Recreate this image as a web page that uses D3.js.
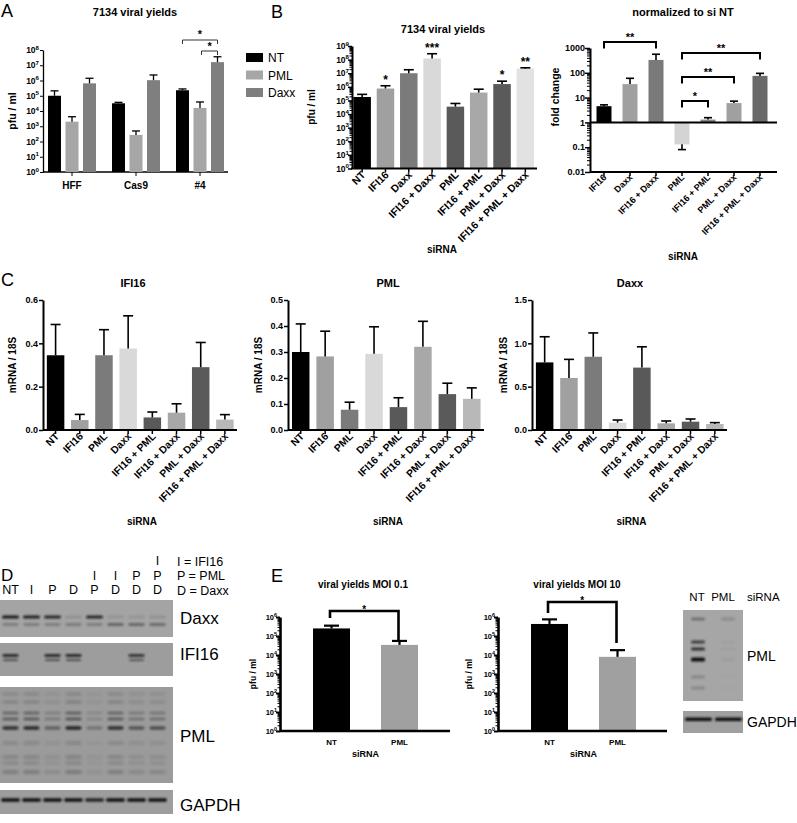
<!DOCTYPE html>
<html><head><meta charset="utf-8">
<script src="https://cdn.jsdelivr.net/npm/d3@7"></script>
<style>
body{margin:0;background:#fff}
svg{display:block}
text{font-family:"Liberation Sans",Arial,Helvetica,sans-serif}
</style>
</head><body>
<svg id="fig" width="797" height="823"></svg>
<script>
// ================= DATA =================
// Panel A
const groupsA = ["HFF", "Cas9", "#4"];
const seriesA = ["NT", "PML", "Daxx"];
const colorsA = ["#000000", "#a6a6a6", "#7f7f7f"];
const meanA_NT = [1.0e5, 3.2e4, 2.3e5];
const errA_NT = [2.1e5, 3.7e4, 2.8e5];
const meanA_PML = [2.0e3, 2.7e2, 1.6e4];
const errA_PML = [4.2e3, 4.9e2, 3.9e4];
const meanA_Daxx = [6.5e5, 1.05e6, 1.6e7];
const errA_Daxx = [1.4e6, 2.3e6, 3.6e7];
const expA = [0, 1, 2, 3, 4, 5, 6, 7, 8];

// Panel B (left) viral yields
const siRNA_B = ["NT", "IFI16", "Daxx", "IFI16 + Daxx", "PML", "IFI16 + PML", "PML + Daxx", "IFI16 + PML + Daxx"];
const colorsB = ["#000000", "#a0a0a0", "#7b7b7b", "#d9d9d9", "#5a5a5a", "#a8a8a8", "#5a5a5a", "#e2e2e2"];
const meanB = [1.8e5, 7.5e5, 1.0e7, 1.2e8, 3.5e4, 3.8e5, 1.6e6, 2.2e7];
const errB = [2.8e5, 1.2e6, 1.8e7, 2.7e8, 6.0e4, 6.7e5, 2.6e6, 2.5e7];
const starsB = ["", "*", "", "***", "", "", "*", "**"];
const expB = [0, 1, 2, 3, 4, 5, 6, 7, 8, 9];

// Panel B (right) fold change
const siRNA_F = ["IFI16", "Daxx", "IFI16 + Daxx", "PML", "IFI16 + PML", "PML + Daxx", "IFI16 + PML + Daxx"];
const colorsF = ["#000000", "#a0a0a0", "#7a7a7a", "#d4d4d4", "#858585", "#a0a0a0", "#6a6a6a"];
const foldMean = [4.5, 35, 330, 0.13, 1.3, 6.0, 75];
const foldErr = [5.1, 60, 560, 0.08, 1.55, 7.2, 95];
const foldTicks = [0.01, 0.1, 1, 10, 100, 1000];
const foldTickLabels = ["0.01", "0.1", "1", "10", "100", "1000"];
const foldBrackets = [["IFI16", "IFI16 + Daxx", "**"], ["PML", "IFI16 + PML + Daxx", "**"], ["PML", "PML + Daxx", "**"], ["PML", "IFI16 + PML", "*"]];

// Panel C mRNA
const siRNA_C = ["NT", "IFI16", "PML", "Daxx", "IFI16 + PML", "IFI16 + Daxx", "PML + Daxx", "IFI16 + PML + Daxx"];
const colorsC = ["#000000", "#a0a0a0", "#7b7b7b", "#d9d9d9", "#595959", "#a8a8a8", "#5a5a5a", "#b8b8b8"];
const ifi16Mean = [0.345, 0.046, 0.345, 0.376, 0.058, 0.080, 0.290, 0.048];
const ifi16Err = [0.487, 0.072, 0.463, 0.527, 0.083, 0.121, 0.404, 0.071];
const ifi16Ticks = [0, 0.2, 0.4, 0.6];
const pmlMean = [0.300, 0.283, 0.078, 0.293, 0.088, 0.320, 0.138, 0.120];
const pmlErr = [0.408, 0.380, 0.107, 0.397, 0.124, 0.418, 0.180, 0.162];
const pmlTicks = [0, 0.1, 0.2, 0.3, 0.4, 0.5];
const daxxMean = [0.78, 0.60, 0.845, 0.085, 0.72, 0.077, 0.096, 0.069];
const daxxErr = [1.076, 0.815, 1.12, 0.115, 0.96, 0.104, 0.127, 0.085];
const daxxTicks = [0, 0.5, 1.0, 1.5];

// Panel D western blots
const lanesD = ["NT", "I", "P", "D", "IP", "ID", "PD", "IPD"];
const laneLabelsD = [["NT"], ["I"], ["P"], ["D"], ["I", "P"], ["I", "D"], ["P", "D"], ["I", "P", "D"]];
const keyD = ["I = IFI16", "P = PML", "D = Daxx"];
const daxxUpper = [0.95, 0.9, 0.85, 0.12, 0.85, 0.10, 0.10, 0.12];
const daxxLower = [0.30, 0.30, 0.30, 0.32, 0.30, 0.50, 0.48, 0.45];
const ifi16Upper = [0.95, 0, 0.95, 0.95, 0, 0, 0.85, 0];
const ifi16Lower = [0.55, 0, 0.55, 0.55, 0, 0, 0.50, 0];
const pmlLane = [0.85, 0.9, 0.45, 0.95, 0.3, 0.85, 0.55, 0.6];
const pmlRowStrength = [0.2, 0.25, 0.45, 0.55, 0.9, 0.22, 0.25, 0.2, 0.35];
const gapdhLane = [1, 1, 1, 1, 0.85, 1, 1, 1];

// Panel E
const siRNA_E = ["NT", "PML"];
const colorsE = ["#000000", "#a0a0a0"];
const moi01Mean = [2.5e5, 3.4e4];
const moi01Err = [3.5e5, 5.5e4];
const moi10Mean = [4.3e5, 8.0e3];
const moi10Err = [7.5e5, 1.8e4];
const expE = [0, 1, 2, 3, 4, 5, 6];
const pmlBlotE = [1, 0.05];
const pmlRowStrengthE = [0.2, 0.7, 0.8, 1.0, 0.2, 0.2];
const gapdhBlotE = [1, 1];

// ================= DRAWING =================
const svg = d3.select("#fig");
svg.append("rect").attr("width", 797).attr("height", 823).attr("fill", "#fff");
const defs = svg.append("defs");
defs.append("filter").attr("id", "blur").attr("x", "-50%").attr("y", "-100%").attr("width", "200%").attr("height", "300%")
  .append("feGaussianBlur").attr("stdDeviation", 0.9);
defs.append("filter").attr("id", "blur2").attr("x", "-50%").attr("y", "-100%").attr("width", "200%").attr("height", "300%")
  .append("feGaussianBlur").attr("stdDeviation", 1.5);

function txt(g, x, y, s, o = {}) {
  const t = g.append("text").attr("x", x).attr("y", y).text(s)
    .attr("font-size", o.size || 10).attr("font-weight", o.weight || "bold")
    .attr("text-anchor", o.anchor || "middle").attr("fill", o.fill || "#000");
  if (o.rotate != null) t.attr("transform", `rotate(${o.rotate},${x},${y})`);
  return t;
}
function powLabel(g, x, y, exp, size) {
  const t = g.append("text").attr("x", x).attr("y", y).attr("text-anchor", "end")
    .attr("font-size", size).attr("font-weight", "bold");
  t.append("tspan").text("10");
  t.append("tspan").attr("dy", -size * 0.42).attr("font-size", size * 0.72).text(exp);
}
function line(g, x1, y1, x2, y2, sw, col) {
  return g.append("line").attr("x1", x1).attr("y1", y1).attr("x2", x2).attr("y2", y2)
    .attr("stroke", col || "#000").attr("stroke-width", sw);
}
function styleAxis(ax, sw) {
  ax.select(".domain").attr("stroke", "#000").attr("stroke-width", sw);
  ax.selectAll(".tick line").attr("stroke", "#000").attr("stroke-width", Math.max(1, sw * 0.75));
}
function minorValues(minE, maxE) {
  const out = [];
  for (let e = minE; e < maxE; e++) for (let k = 2; k <= 9; k++) out.push(k * Math.pow(10, e));
  return out;
}
function logYAxis(g, y, x0, exps, o) {
  const major = exps.map(e => Math.pow(10, e));
  const ax = g.append("g").attr("transform", `translate(${x0},0)`)
    .call(d3.axisLeft(y).tickValues(major).tickSize(o.tick).tickSizeOuter(0).tickFormat(""));
  styleAxis(ax, o.sw);
  if (o.minor) {
    const mx = g.append("g").attr("transform", `translate(${x0},0)`)
      .call(d3.axisLeft(y).tickValues(minorValues(exps[0], exps[exps.length - 1])).tickSize(o.minor).tickFormat(""));
    mx.select(".domain").remove();
    mx.selectAll(".tick line").attr("stroke", "#000").attr("stroke-width", 1);
  }
  exps.forEach(e => powLabel(g, x0 - o.gap, y(Math.pow(10, e)) + o.size * 0.38, e, o.size));
}
function xAxisLine(g, x, y0, xStart, xEnd, sw, tick) {
  line(g, xStart, y0, xEnd, y0, sw);
  x.domain().forEach(c => {
    const cx = x(c) + x.bandwidth() / 2;
    line(g, cx, y0, cx, y0 + tick, Math.max(1, sw * 0.75));
  });
}
function drawBars(g, x, y, cats, means, errs, colors, bw, base, capW, sw) {
  const data = cats.map((c, i) => ({ c, m: means[i], e: errs[i], col: colors[i] }));
  const cxOf = d => x(d.c) + x.bandwidth() / 2;
  g.selectAll(null).data(data).join("rect")
    .attr("x", d => cxOf(d) - bw / 2).attr("width", bw)
    .attr("y", d => Math.min(y(base), y(d.m)))
    .attr("height", d => Math.abs(y(base) - y(d.m)))
    .attr("fill", d => d.col);
  g.selectAll(null).data(data).join("line")
    .attr("x1", cxOf).attr("x2", cxOf).attr("y1", d => y(d.m)).attr("y2", d => y(d.e))
    .attr("stroke", "#000").attr("stroke-width", sw);
  g.selectAll(null).data(data).join("line")
    .attr("x1", d => cxOf(d) - capW / 2).attr("x2", d => cxOf(d) + capW / 2)
    .attr("y1", d => y(d.e)).attr("y2", d => y(d.e))
    .attr("stroke", "#000").attr("stroke-width", sw);
}
function rotLabels(g, x, y0, size, dx, dy) {
  x.domain().forEach(c => {
    const cx = x(c) + x.bandwidth() / 2;
    g.append("text").attr("transform", `translate(${cx + dx},${y0 + dy}) rotate(-45)`)
      .attr("text-anchor", "end").attr("font-size", size).attr("font-weight", "bold").text(c);
  });
}

// ---------- Panel letters ----------
txt(svg, 1, 17, "A", { size: 18, weight: "normal", anchor: "start" });
txt(svg, 271, 18, "B", { size: 18, weight: "normal", anchor: "start" });
txt(svg, 1, 286, "C", { size: 18, weight: "normal", anchor: "start" });
txt(svg, 1, 581, "D", { size: 17, weight: "normal", anchor: "start" });
txt(svg, 271, 582, "E", { size: 18, weight: "normal", anchor: "start" });

// ---------- Panel A ----------
{
  const g = svg.append("g");
  const y = d3.scaleLog().domain([1, 1e8]).range([172, 50]);
  const x = d3.scaleBand().domain(groupsA).range([40, 232]);
  const xi = d3.scalePoint().domain(seriesA).range([-17.5, 17.5]);
  txt(g, 135, 16, "7134 viral yields", { size: 11 });
  logYAxis(g, y, 43, expA, { tick: 3, sw: 1.3, gap: 4, size: 8.5 });
  txt(g, 16, 111, "pfu / ml", { size: 10.5, rotate: -90 });
  line(g, 43, 172, 228, 172, 1.3);
  groupsA.forEach(gr => {
    const cx = x(gr) + x.bandwidth() / 2;
    line(g, cx, 172, cx, 176, 1);
    txt(g, cx, 189, gr, { size: 10 });
  });
  const meansA = [meanA_NT, meanA_PML, meanA_Daxx];
  const errsA = [errA_NT, errA_PML, errA_Daxx];
  seriesA.forEach((s, si) => {
    groupsA.forEach((gr, gi) => {
      const cx = x(gr) + x.bandwidth() / 2 + xi(s);
      g.append("rect").attr("x", cx - 6.5).attr("width", 13)
        .attr("y", y(meansA[si][gi])).attr("height", y(1) - y(meansA[si][gi])).attr("fill", colorsA[si]);
      line(g, cx, y(meansA[si][gi]), cx, y(errsA[si][gi]), 1.3);
      line(g, cx - 4, y(errsA[si][gi]), cx + 4, y(errsA[si][gi]), 1.3);
    });
  });
  // brackets
  const c4 = x("#4") + x.bandwidth() / 2;
  const bx = s => c4 + xi(s);
  g.append("path").attr("d", `M${bx("NT")},44V40H${bx("Daxx")}V44`).attr("fill", "none").attr("stroke", "#333").attr("stroke-width", 1);
  g.append("path").attr("d", `M${bx("PML") + 1.5},55V51H${bx("Daxx")}V55`).attr("fill", "none").attr("stroke", "#333").attr("stroke-width", 1);
  txt(g, (bx("NT") + bx("Daxx")) / 2, 38, "*", { size: 11 });
  txt(g, (bx("PML") + bx("Daxx")) / 2 + 1, 50, "*", { size: 11 });
  // legend
  seriesA.forEach((s, i) => {
    g.append("rect").attr("x", 246).attr("y", 53 + i * 17.5).attr("width", 17).attr("height", 9).attr("fill", colorsA[i]);
    txt(g, 268, 62 + i * 17.5, s, { size: 12, weight: "normal", anchor: "start" });
  });
}

// ---------- Panel B left ----------
{
  const g = svg.append("g");
  const y = d3.scaleLog().domain([1, 1e9]).range([168.5, 46]);
  const x = d3.scaleBand().domain(siRNA_B).range([350.5, 537]);
  txt(g, 443, 33, "7134 viral yields", { size: 11 });
  drawBars(g, x, y, siRNA_B, meanB, errB, colorsB, 17.5, 1, 10, 1.6);
  logYAxis(g, y, 352, expB, { tick: 4, sw: 2, minor: 2.5, gap: 3, size: 8.5 });
  xAxisLine(g, x, 168.5, 351, 537, 2, 4);
  rotLabels(g, x, 168.5, 10.5, 4, 7);
  siRNA_B.forEach((c, i) => {
    if (starsB[i]) txt(g, x(c) + x.bandwidth() / 2, y(errB[i]) - 2, starsB[i], { size: 12 });
  });
  txt(g, 315, 107, "pfu / ml", { size: 10, rotate: -90 });
  txt(g, 442, 253, "siRNA", { size: 10 });
}

// ---------- Panel B right ----------
{
  const g = svg.append("g");
  const y = d3.scaleLog().domain([0.01, 1000]).range([172, 48]);
  const x = d3.scaleBand().domain(siRNA_F).range([591, 773]);
  txt(g, 683, 16, "normalized to si NT", { size: 11 });
  drawBars(g, x, y, siRNA_F, foldMean, foldErr, colorsF, 15, 1, 8, 1.6);
  const ax = g.append("g").attr("transform", "translate(590,0)")
    .call(d3.axisLeft(y).tickValues(foldTicks).tickSize(5).tickSizeOuter(0).tickFormat(""));
  styleAxis(ax, 2);
  const mx = g.append("g").attr("transform", "translate(590,0)")
    .call(d3.axisLeft(y).tickValues(minorValues(-2, 3)).tickSize(3).tickFormat(""));
  mx.select(".domain").remove();
  mx.selectAll(".tick line").attr("stroke", "#000");
  foldTicks.forEach((v, i) => txt(g, 585, y(v) + 3.2, foldTickLabels[i], { size: 9, anchor: "end" }));
  line(g, 590, y(1), 777, y(1), 2);
  xAxisLine(g, x, 172, 590, 777, 2, 4);
  rotLabels(g, x, 172, 9, 3, 6);
  const bracketY = [42, 53, 77, 101];
  foldBrackets.forEach((b, i) => {
    const x1 = x(b[0]) + x.bandwidth() / 2, x2 = x(b[1]) + x.bandwidth() / 2, yb = bracketY[i];
    g.append("path").attr("d", `M${x1},${yb + 6.5}V${yb}H${x2}V${yb + 6.5}`).attr("fill", "none").attr("stroke", "#000").attr("stroke-width", 2);
    txt(g, (x1 + x2) / 2, yb - 1, b[2], { size: 11 });
  });
  txt(g, 559, 97, "fold change", { size: 10.5, rotate: -90 });
  txt(g, 683, 260, "siRNA", { size: 10 });
}

// ---------- Panel C ----------
function mrnaPanel(x0, x1, title, titleX, ylabX, means, errs, ticks, fmt) {
  const g = svg.append("g");
  const y = d3.scaleLinear().domain([0, ticks[ticks.length - 1]]).range([430, 300]);
  const x = d3.scaleBand().domain(siRNA_C).range([x0 + 0.5, x1]);
  txt(g, titleX, 287, title, { size: 11 });
  drawBars(g, x, y, siRNA_C, means, errs, colorsC, 17.5, 0, 10, 1.6);
  const ax = g.append("g").attr("transform", `translate(${x0},0)`)
    .call(d3.axisLeft(y).tickValues(ticks).tickSize(4).tickSizeOuter(0).tickFormat(""));
  styleAxis(ax, 2);
  ticks.forEach(v => txt(g, x0 - 5, y(v) + 3.2, d3.format(fmt)(v), { size: 9, anchor: "end" }));
  xAxisLine(g, x, 430, x0, x1, 2, 4);
  rotLabels(g, x, 430, 10.3, 4, 7);
  txt(g, ylabX, 365, "mRNA / 18S", { size: 10, rotate: -90 });
  txt(g, (x0 + x1) / 2 + 2, 525, "siRNA", { size: 10 });
}
mrnaPanel(43, 237, "IFI16", 133, 16, ifi16Mean, ifi16Err, ifi16Ticks, ".1f");
mrnaPanel(288, 484, "PML", 388, 262, pmlMean, pmlErr, pmlTicks, ".1f");
mrnaPanel(532, 727, "Daxx", 630, 507, daxxMean, daxxErr, daxxTicks, ".1f");

// ---------- Panel D blots ----------
{
  const g = svg.append("g");
  const lane = d3.scaleBand().domain(lanesD).range([0, 168]);
  const lc = l => lane(l) + lane.bandwidth() / 2;
  laneLabelsD.forEach((arr, i) => {
    arr.slice().reverse().forEach((s, k) => txt(g, lc(lanesD[i]), 594 - k * 14.5, s, { size: 12.5, weight: "normal" }));
  });
  keyD.forEach((s, k) => txt(g, 177, 565.5 + k * 14.5, s, { size: 12.5, weight: "normal", anchor: "start" }));

  function blotRect(y0, h, fill) {
    g.append("rect").attr("x", 0).attr("y", y0).attr("width", 173).attr("height", h).attr("fill", fill);
  }
  function band(cx, cy, w, h, a, blur) {
    if (a <= 0) return;
    g.append("rect").attr("x", cx - w / 2).attr("y", cy - h / 2).attr("width", w).attr("height", h)
      .attr("rx", h / 2).attr("fill", "#111").attr("opacity", a).attr("filter", `url(#${blur || "blur"})`);
  }
  // Daxx
  blotRect(600, 37, "#a4a4a4");
  lanesD.forEach((l, i) => { band(lc(l), 617, 17, 3.2, daxxUpper[i]); band(lc(l), 624.5, 16, 2.6, daxxLower[i]); });
  txt(g, 180, 624, "Daxx", { size: 17, weight: "normal", anchor: "start" });
  // IFI16
  blotRect(643, 33, "#9d9d9d");
  lanesD.forEach((l, i) => { band(lc(l), 655.5, 16, 2.6, ifi16Upper[i]); band(lc(l), 660, 15, 2, ifi16Lower[i]); });
  txt(g, 180, 660, "IFI16", { size: 17, weight: "normal", anchor: "start" });
  // PML
  blotRect(687, 96, "#9b9b9b");
  const rowOff = [7, 15, 26, 32, 41, 56, 70, 76, 85];
  lanesD.forEach((l, i) => rowOff.forEach((o, r) => band(lc(l), 687 + o, 16, r === 4 ? 3.4 : 2.6, Math.min(1, pmlLane[i] * pmlRowStrength[r]), r >= 5 || r < 2 ? "blur2" : "blur")));
  txt(g, 180, 742, "PML", { size: 17, weight: "normal", anchor: "start" });
  // GAPDH
  blotRect(790, 24, "#9d9d9d");
  lanesD.forEach((l, i) => band(lc(l), 800, 19, 3.6, gapdhLane[i]));
  txt(g, 180, 811, "GAPDH", { size: 17, weight: "normal", anchor: "start" });
}

// ---------- Panel E ----------
function moiPanel(x0, x1, title, titleX, means, errs, bracket, ylabX) {
  const g = svg.append("g");
  const y = d3.scaleLog().domain([1, 1e6]).range([731, 617]);
  const x = d3.scaleBand().domain(siRNA_E).range([x0 + 17.5, x0 + 153.5]);
  txt(g, titleX, 588, title, { size: 10 });
  drawBars(g, x, y, siRNA_E, means, errs, colorsE, 37, 1, 15, 2.2);
  logYAxis(g, y, x0, expE, { tick: 4, sw: 2.6, minor: 2.5, gap: 3, size: 7.5 });
  line(g, x0, 731, x1, 731, 2.6);
  siRNA_E.forEach(c => txt(g, x(c) + x.bandwidth() / 2, 745, c, { size: 8 }));
  txt(g, (x(siRNA_E[0]) + x(siRNA_E[1]) + x.bandwidth()) / 2, 757, "siRNA", { size: 9 });
  txt(g, ylabX, 674, "pfu / ml", { size: 8.5, rotate: -90 });
  const cx0 = x("NT") + x.bandwidth() / 2 - 1.5, cx1 = x("PML") + x.bandwidth() / 2 - 1;
  g.append("path").attr("d", `M${cx0},${bracket[1]}V${bracket[0]}H${cx1}V${bracket[2]}`)
    .attr("fill", "none").attr("stroke", "#000").attr("stroke-width", 2.6);
  txt(g, (cx0 + cx1) / 2, bracket[0] + 2, "*", { size: 10 });
}
moiPanel(280, 450, "viral yields MOI 0.1", 363, moi01Mean, moi01Err, [611, 618, 642], 256);
moiPanel(498, 667, "viral yields MOI 10", 577, moi10Mean, moi10Err, [602, 613, 643], 472);

// E blot
{
  const g = svg.append("g");
  const lane = d3.scaleBand().domain(siRNA_E).range([683, 743]);
  const lc = l => lane(l) + lane.bandwidth() / 2;
  siRNA_E.forEach(l => txt(g, lc(l) + (l === "PML" ? -5 : -1), 601, l, { size: 11.5, weight: "normal" }));
  txt(g, 747, 601, "siRNA", { size: 11.5, weight: "normal", anchor: "start" });
  g.append("rect").attr("x", 683).attr("y", 610).attr("width", 60).attr("height", 91).attr("fill", "#a6a6a6");
  g.append("rect").attr("x", 683).attr("y", 711).attr("width", 60).attr("height", 22).attr("fill", "#a0a0a0");
  const rowOff = [9, 32, 39, 49, 67, 78];
  siRNA_E.forEach((l, i) => rowOff.forEach((o, r) => {
    const a = Math.min(1, pmlBlotE[i] * pmlRowStrengthE[r] + (r === 0 ? 0.15 : 0));
    if (a > 0) g.append("rect").attr("x", lc(l) - 7).attr("y", 610 + o - 1.5).attr("width", 14).attr("height", r === 3 ? 4 : 3)
      .attr("rx", 1.5).attr("fill", "#111").attr("opacity", a).attr("filter", "url(#blur)");
  }));
  siRNA_E.forEach((l, i) => g.append("rect").attr("x", lc(l) - 13).attr("y", 717.5).attr("width", 27).attr("height", 3.5)
    .attr("rx", 1.5).attr("fill", "#111").attr("opacity", gapdhBlotE[i]).attr("filter", "url(#blur)"));
  txt(g, 747, 661, "PML", { size: 14, weight: "normal", anchor: "start" });
  txt(g, 747, 727, "GAPDH", { size: 14, weight: "normal", anchor: "start" });
}
</script>
</body></html>
